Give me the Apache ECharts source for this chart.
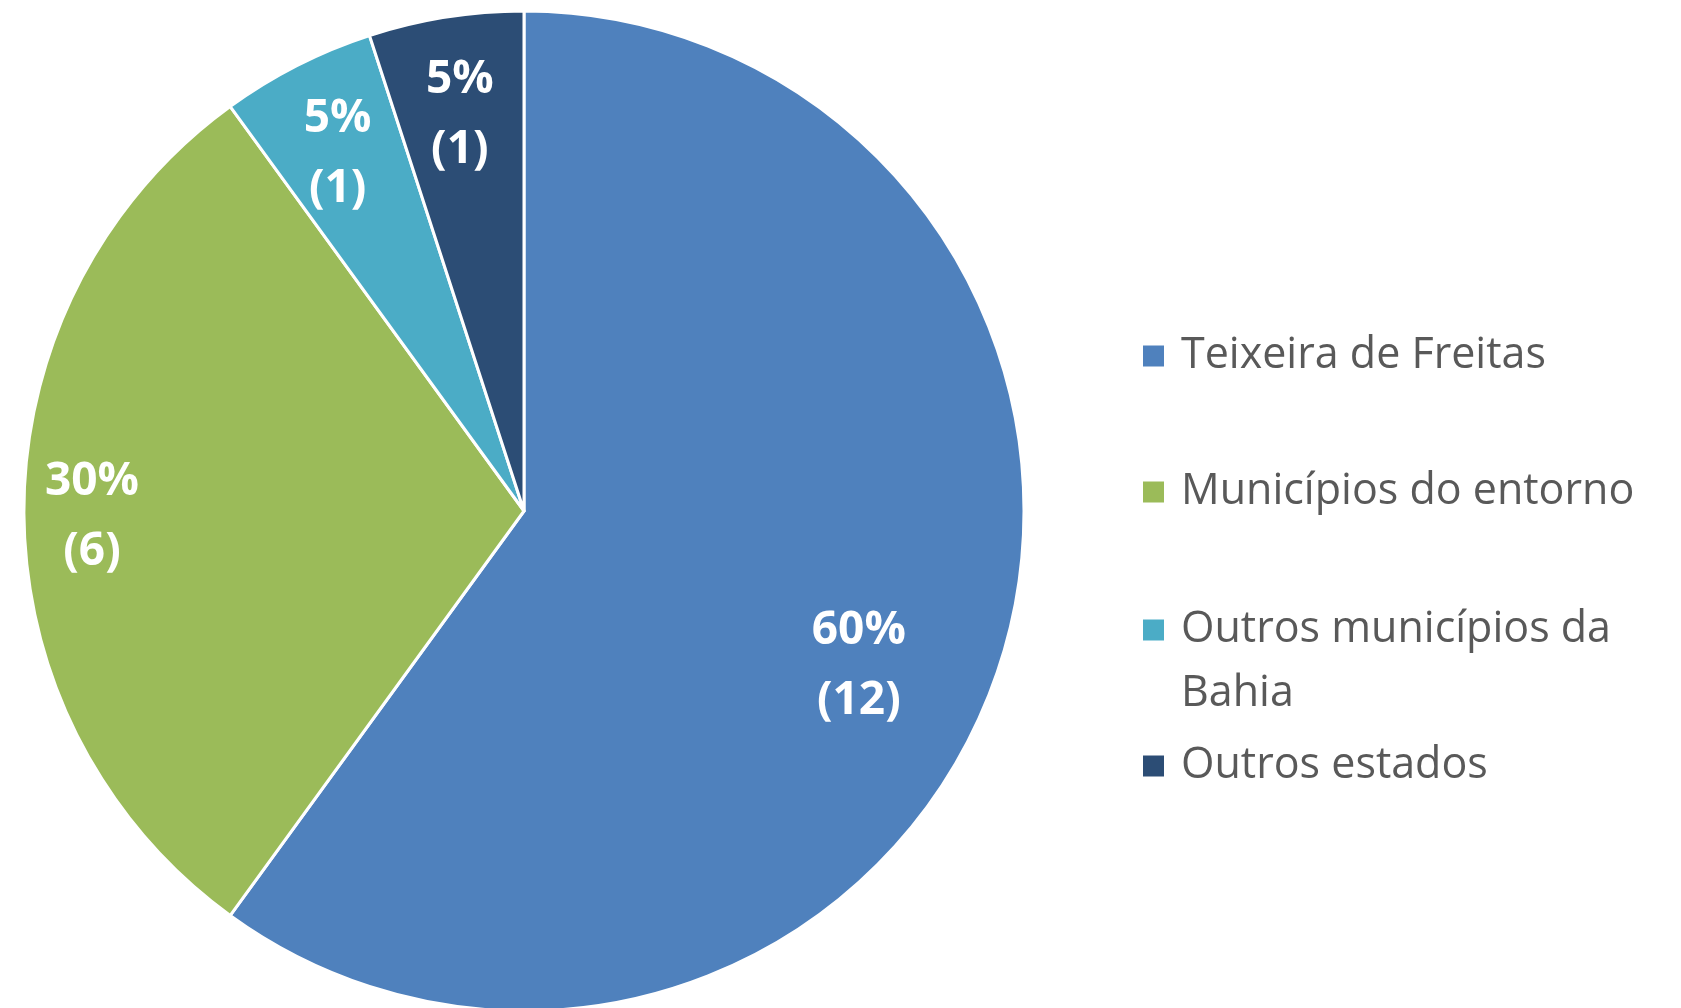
<!DOCTYPE html>
<html>
<head>
<meta charset="utf-8">
<script src="https://cdn.jsdelivr.net/npm/echarts@6/dist/echarts.min.js"></script>
<style>
  html, body { margin: 0; padding: 0; background: #fff; }
  #chartmain { width: 1681px; height: 1008px; }
</style>
</head>
<body>
<div id="chartmain"></div>
<script>
var categories = ["Teixeira de Freitas", "Municípios do entorno", "Outros municípios da Bahia", "Outros estados"];
var counts = [12, 6, 1, 1];
var colors = ["#4F81BD", "#9BBB59", "#4BACC6", "#2C4D75"];

var pieData = [];
for (var i = 0; i < categories.length; i++) {
  pieData.push({ name: categories[i], value: counts[i], itemStyle: { color: colors[i] } });
}

// legend: one block per entry so the markers keep equal spacing
var legendTops = [319, 455, 529, 729];
var legends = [];
for (var j = 0; j < categories.length; j++) {
  legends.push({
    orient: "vertical",
    left: 1136,
    top: legendTops[j],
    data: [categories[j]],
    icon: "rect",
    itemWidth: 23,
    itemHeight: 23,
    selectedMode: false,
    formatter: function(name) {
      // blank first line keeps the marker level with "Outros municípios da"
      return name == "Outros municípios da Bahia" ? "\nOutros municípios da\nBahia" : name;
    },
    textStyle: {
      color: "#595959",
      fontFamily: "Open Sans",
      fontSize: 43,
      lineHeight: 64,
      padding: [0, 0, 0, 11]
    }
  });
}

// transparent copy of the slices, only to carry a label further out
function labelSeries(radius, shown, nudge) {
  return {
    type: "pie",
    center: [524, 511],
    radius: [0, radius],
    startAngle: 90,
    clockwise: true,
    silent: true,
    data: pieData.map(function(d, k) {
      return { name: d.name, value: d.value, label: { show: shown.indexOf(k) >= 0 } };
    }),
    itemStyle: { color: "rgba(0,0,0,0)", borderWidth: 0 },
    label: {
      position: "inside",
      formatter: "{d}%\n({c})",
      color: "#fff",
      fontFamily: "Open Sans",
      fontWeight: "bold",
      fontSize: 46,
      lineHeight: 70,
      textBorderWidth: 0
    },
    labelLayout: { dx: nudge[0], dy: nudge[1] },
    labelLine: { show: false },
    emphasis: { disabled: true }
  };
}

var option = {
  animation: false,
  backgroundColor: "#fff",
  legend: legends,
  series: [
    {
      name: "origem",
      type: "pie",
      center: [524, 511],
      radius: [0, 500],
      startAngle: 90,
      clockwise: true,
      data: pieData,
      itemStyle: { borderColor: "#fff", borderWidth: 3 },
      label: { show: false },
      labelLine: { show: false },
      emphasis: { disabled: true }
    },
    labelSeries(736, [0], [-18, 40]),
    labelSeries(858, [1], [0, 6]),
    labelSeries(815, [2, 3], [0, 9])
  ]
};

var myChart = echarts.init(document.getElementById("chartmain"));
myChart.setOption(option);
</script>
</body>
</html>
